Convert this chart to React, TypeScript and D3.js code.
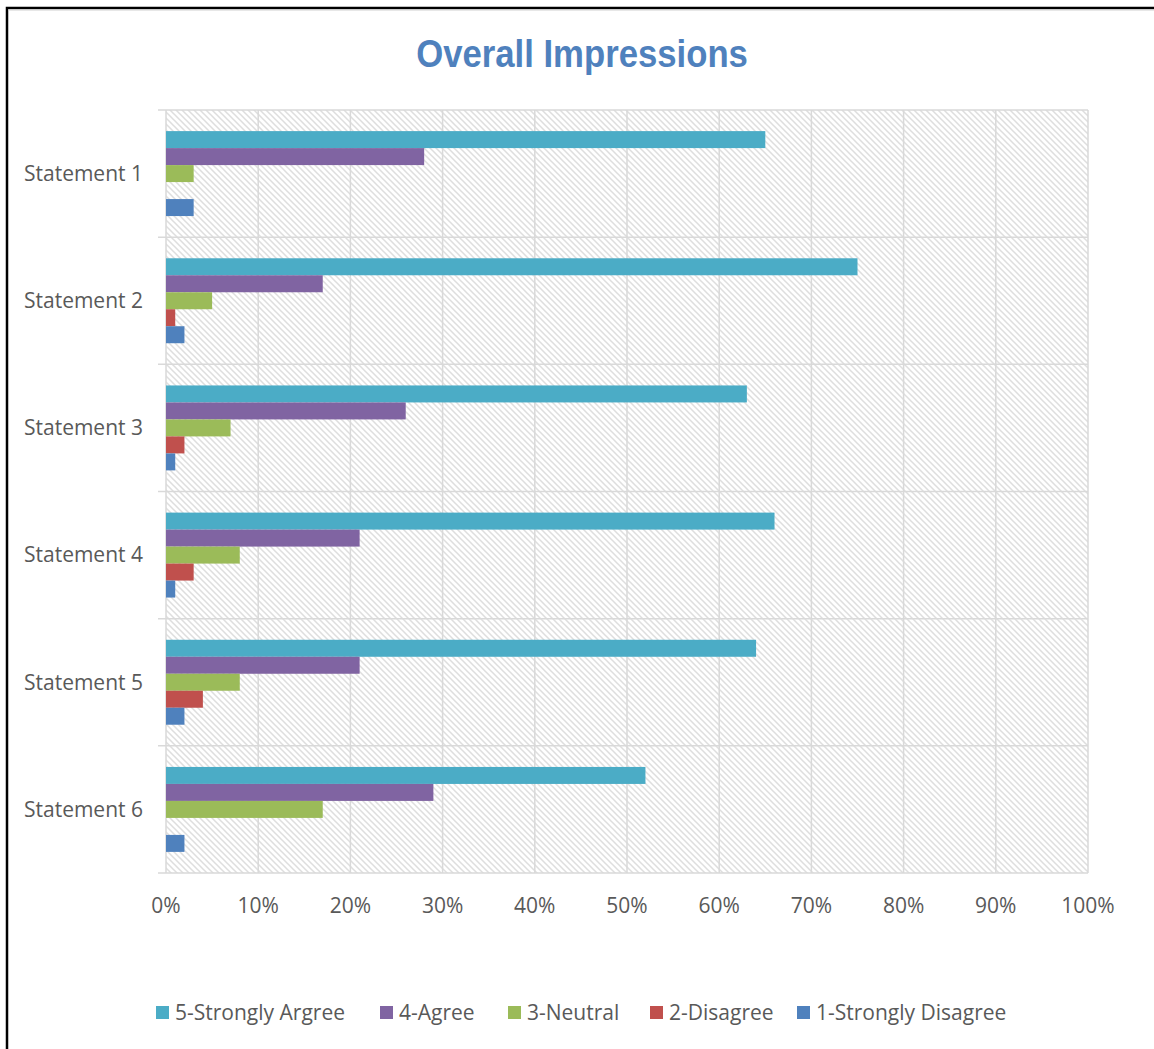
import React from "react";
import * as d3 from "d3";

const categories = ["Statement 1", "Statement 2", "Statement 3", "Statement 4", "Statement 5", "Statement 6"];
const seriesNames = ["5-Strongly Argree", "4-Agree", "3-Neutral", "2-Disagree", "1-Strongly Disagree"];
const seriesColors = ["#4BACC6", "#8064A2", "#9BBB59", "#C0504D", "#4F81BD"];
const stronglyAgree = [65, 75, 63, 66, 64, 52];
const agree = [28, 17, 26, 21, 21, 29];
const neutral = [3, 5, 7, 8, 8, 17];
const disagree = [0, 1, 2, 3, 4, 0];
const stronglyDisagree = [3, 2, 1, 1, 2, 2];
const seriesValues = [stronglyAgree, agree, neutral, disagree, stronglyDisagree];
const xTicks = [0, 10, 20, 30, 40, 50, 60, 70, 80, 90, 100];
const legendX = [156, 380, 508, 650, 797];

const W = 1154;
const H = 1049;
const left = 166, right = 1088, top = 110, bottom = 873;
const textColor = "#595959";
const gridColor = "#d9d9d9";
const font = "'Open Sans', sans-serif";
const fs = 21;

export default function App() {
  const x = d3.scaleLinear().domain([0, 100]).range([left, right]);
  const yCat = d3.scaleBand<string>().domain(categories).range([top, bottom]).paddingInner(0.332).paddingOuter(0.166);
  const step = yCat.step();
  const ySer = d3.scaleBand<string>().domain(seriesNames).range([0, yCat.bandwidth()]);

  return (
    <svg width={W} height={H} style={{ position: "absolute", left: 0, top: 0, background: "#fff" }}>
      <defs>
        <pattern id="hatch" width="6" height="6" patternUnits="userSpaceOnUse">
          <rect width="6" height="6" fill="#ffffff" />
          <path d="M-1,-1 L7,7 M-7,-1 L1,7 M5,-1 L13,7" stroke="#dedede" strokeWidth="1.5" />
        </pattern>
      </defs>
      <rect x={0} y={0} width={W} height={H} fill="#fff" />
      {/* outer border */}
      <path d={`M7,${H + 5} L7,8 L${W + 5},8`} fill="none" stroke="#000" strokeWidth={2.5} />
      <line x1={8} y1={10} x2={W} y2={10} stroke="#d0d0d0" strokeWidth={1} />

      <g transform="translate(582,67) scale(0.89,1)">
        <text x={0} y={0} textAnchor="middle" fill="#4F81BD" fontFamily="'Liberation Sans', Arial, sans-serif" fontWeight="bold" fontSize={39}>
          Overall Impressions
        </text>
      </g>

      {/* plot background */}
      <rect x={left} y={top} width={right - left} height={bottom - top} fill="url(#hatch)" />

      {/* vertical gridlines */}
      {xTicks.map((t) => (
        <line key={"vg" + t} x1={x(t)} x2={x(t)} y1={top} y2={bottom} stroke={gridColor} strokeWidth={1.5} />
      ))}
      {/* horizontal gridlines at category boundaries */}
      {d3.range(categories.length + 1).map((i) => (
        <line key={"hg" + i} x1={left - 8} x2={right} y1={top + i * step} y2={top + i * step} stroke={gridColor} strokeWidth={1.5} />
      ))}

      {/* bars */}
      {categories.map((c, ci) => (
        <g key={c} transform={`translate(0,${yCat(c)})`}>
          {seriesNames.map((s, si) => {
            const v = seriesValues[si][ci];
            if (!v) return null;
            return (
              <rect key={s} x={x(0)} y={ySer(s)} width={x(v) - x(0)} height={ySer.bandwidth()} fill={seriesColors[si]} />
            );
          })}
        </g>
      ))}

      {/* category labels */}
      {categories.map((c) => (
        <text key={"cl" + c} x={143} y={(yCat(c) as number) + yCat.bandwidth() / 2} dy="0.35em" textAnchor="end" fill={textColor} fontFamily={font} fontSize={fs}>
          {c}
        </text>
      ))}

      {/* x tick labels */}
      {xTicks.map((t) => (
        <text key={"xl" + t} x={x(t)} y={913} textAnchor="middle" fill={textColor} fontFamily={font} fontSize={fs}>
          {t + "%"}
        </text>
      ))}

      {/* legend */}
      {seriesNames.map((s, i) => (
        <g key={"lg" + s} transform={`translate(${legendX[i]},1006)`}>
          <rect x={0} y={0} width={13} height={13} fill={seriesColors[i]} />
          <text x={19} y={13.5} fill={textColor} fontFamily={font} fontSize={fs}>
            {s}
          </text>
        </g>
      ))}
    </svg>
  );
}
